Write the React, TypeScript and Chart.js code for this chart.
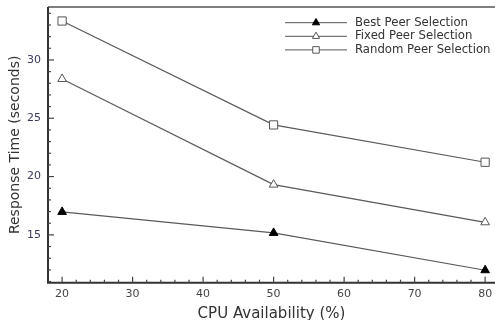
import { useEffect, useRef } from "react";
import { Chart, registerables } from "chart.js";
Chart.register(...registerables);

const cpu = [20, 50, 80];
const best = [16.97, 15.17, 11.97];
const fixed = [28.37, 19.31, 16.08];
const random = [33.34, 24.43, 21.23];
const xTicks = [20, 30, 40, 50, 60, 70, 80];
const yTicks = [15, 20, 25, 30];
const seriesNames = ["Best Peer Selection", "Fixed Peer Selection", "Random Peer Selection"];
const xTitle = "CPU Availability (%)";
const yTitle = "Response Time (seconds)";

const FONT = "'DejaVu Sans', Verdana, sans-serif";

function drawMarker(ctx: CanvasRenderingContext2D, style: string, x: number, y: number, r: number, fill: string, stroke: string) {
  ctx.save();
  ctx.beginPath();
  if (style === "rect") {
    const s = Math.SQRT1_2 * r;
    ctx.rect(x - s, y - s, 2 * s, 2 * s);
  } else {
    let a = 0;
    ctx.moveTo(x + Math.sin(a) * r, y - Math.cos(a) * r);
    a += (2 * Math.PI) / 3;
    ctx.lineTo(x + Math.sin(a) * r, y - Math.cos(a) * r);
    a += (2 * Math.PI) / 3;
    ctx.lineTo(x + Math.sin(a) * r, y - Math.cos(a) * r);
    ctx.closePath();
  }
  ctx.fillStyle = fill;
  ctx.fill();
  ctx.lineWidth = 1;
  ctx.strokeStyle = stroke;
  ctx.stroke();
  ctx.restore();
}

const axesPlugin = {
  id: "axesFrame",
  beforeDatasetsDraw(chart: any) {
    const { ctx, chartArea } = chart;
    const xs = chart.scales.x;
    const ys = chart.scales.y;
    const { left, right, top, bottom } = chartArea;
    ctx.save();
    ctx.strokeStyle = "#555";
    ctx.lineWidth = 1.5;
    ctx.beginPath();
    ctx.moveTo(left, top);
    ctx.lineTo(right, top);
    ctx.stroke();
    ctx.strokeStyle = "#333";
    ctx.lineWidth = 2;
    ctx.beginPath();
    ctx.moveTo(left, top);
    ctx.lineTo(left, bottom);
    ctx.lineTo(right, bottom);
    ctx.stroke();
    ctx.lineWidth = 1.2;
    ctx.strokeStyle = "#444";
    for (let v = 20; v <= xs.max; v += 2) {
      const px = xs.getPixelForValue(v);
      const major = xTicks.includes(v);
      ctx.beginPath();
      ctx.moveTo(px, bottom);
      ctx.lineTo(px, bottom - (major ? 6 : 3));
      ctx.stroke();
    }
    for (let v = Math.ceil(ys.min); v <= ys.max; v += 1) {
      const py = ys.getPixelForValue(v);
      const major = yTicks.includes(v);
      ctx.beginPath();
      ctx.moveTo(left, py);
      ctx.lineTo(left + (major ? 6 : 3), py);
      ctx.stroke();
    }
    ctx.restore();
  },
};

const legendPlugin = {
  id: "lineLegend",
  afterDraw(chart: any) {
    const { ctx } = chart;
    chart.data.datasets.forEach((ds: any, i: number) => {
      const y = 22.7 + i * 13.6;
      ctx.save();
      ctx.strokeStyle = "#555";
      ctx.lineWidth = 1;
      ctx.beginPath();
      ctx.moveTo(285, y);
      ctx.lineTo(347, y);
      ctx.stroke();
      drawMarker(ctx, ds.pointStyle, 316, y, ds.pointStyle === "rect" ? 4.6 : 4.2, ds.pointBackgroundColor, ds.pointBorderColor);
      ctx.fillStyle = "#333";
      ctx.font = `11.7px ${FONT}`;
      ctx.textBaseline = "middle";
      ctx.textAlign = "left";
      ctx.fillText(ds.label, 355, y);
      ctx.restore();
    });
  },
};

export default function App() {
  const ref = useRef<HTMLCanvasElement>(null);
  useEffect(() => {
    if (!ref.current) return;
    const mk = (values: number[]) => cpu.map((c, i) => ({ x: c, y: values[i] }));
    const chart = new Chart(ref.current, {
      type: "line",
      data: {
        datasets: [
          {
            label: seriesNames[0],
            data: mk(best),
            borderColor: "#5a5a5a",
            borderWidth: 1.2,
            pointStyle: "triangle",
            pointRadius: 5,
            pointBackgroundColor: "#000",
            pointBorderColor: "#000",
            pointBorderWidth: 1,
          },
          {
            label: seriesNames[1],
            data: mk(fixed),
            borderColor: "#5a5a5a",
            borderWidth: 1.2,
            pointStyle: "triangle",
            pointRadius: 5,
            pointBackgroundColor: "#fff",
            pointBorderColor: "#555",
            pointBorderWidth: 1,
          },
          {
            label: seriesNames[2],
            data: mk(random),
            borderColor: "#5a5a5a",
            borderWidth: 1.2,
            pointStyle: "rect",
            pointRadius: 5.8,
            pointBackgroundColor: "#fff",
            pointBorderColor: "#555",
            pointBorderWidth: 1,
          },
        ],
      },
      options: {
        animation: false,
        responsive: true,
        maintainAspectRatio: false,
        layout: { autoPadding: false, padding: { top: 7, right: 0, left: 0, bottom: 0 } },
        plugins: { legend: { display: false }, tooltip: { enabled: false } },
        scales: {
          x: {
            type: "linear",
            min: 18,
            max: 81.4,
            afterBuildTicks: (s: any) => {
              s.ticks = xTicks.map((v) => ({ value: v }));
            },
            afterFit: (s: any) => {
              s.height = 37.3;
              s.paddingRight = 0;
              s.paddingLeft = 0;
            },
            grid: { display: false, drawTicks: false },
            border: { display: false },
            ticks: { font: { family: FONT, size: 11 }, color: "#444", padding: 5, maxRotation: 0, autoSkip: false },
            title: { display: true, text: xTitle, font: { family: FONT, size: 15 }, color: "#333", padding: { top: 0, bottom: -3 } },
          },
          y: {
            type: "linear",
            min: 10.9,
            max: 34.54,
            afterBuildTicks: (s: any) => {
              s.ticks = yTicks.map((v) => ({ value: v }));
            },
            afterFit: (s: any) => {
              s.width = 48;
              s.paddingTop = 0;
              s.paddingBottom = 0;
            },
            grid: { display: false, drawTicks: false },
            border: { display: false },
            ticks: { font: { family: FONT, size: 11 }, color: "#3a3a5a", padding: 7, autoSkip: false },
            title: { display: true, text: yTitle, font: { family: FONT, size: 14 }, color: "#333", padding: { top: 6.5, bottom: 0 } },
          },
        },
      },
      plugins: [axesPlugin, legendPlugin],
    });
    return () => chart.destroy();
  }, []);
  return (
    <div style={{ position: "absolute", left: 0, top: 0, width: 495, height: 320, background: "#fff" }}>
      <canvas ref={ref} />
    </div>
  );
}
